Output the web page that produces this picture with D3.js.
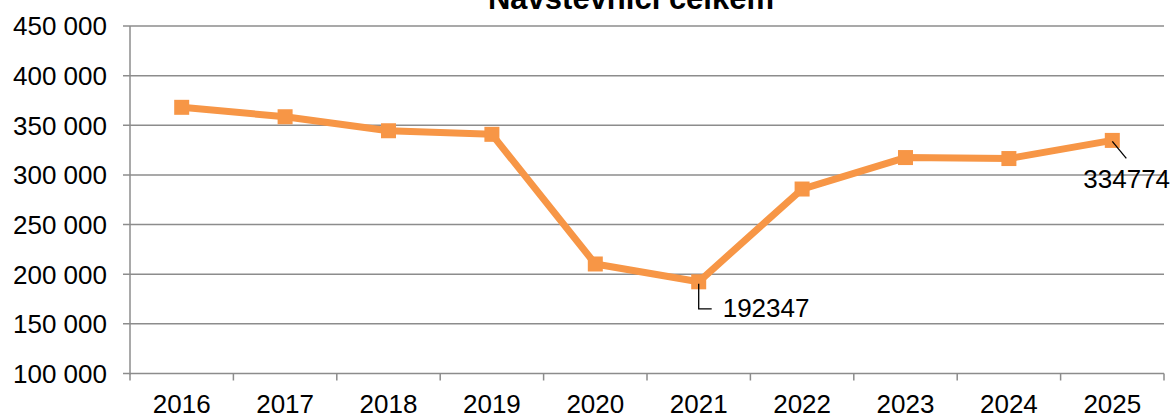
<!DOCTYPE html>
<html>
<head>
<meta charset="utf-8">
<script src="https://cdn.jsdelivr.net/npm/d3@7"></script>
<style>
  body { margin: 0; background: #fff; }
  text { font-family: "Liberation Sans", Arial, sans-serif; fill: #000; }
</style>
</head>
<body>
<div id="chart"></div>
<script>
// data
var years = ["2016", "2017", "2018", "2019", "2020", "2021", "2022", "2023", "2024", "2025"];
var visitors = [368100, 358600, 344500, 340900, 210300, 192347, 285800, 317500, 316500, 334774];
var yTicks = [100000, 150000, 200000, 250000, 300000, 350000, 400000, 450000];
var labelled = ["2021", "2025"];

var W = 1173, H = 416;
var margin = { top: 26, right: 9, bottom: 42.5, left: 130 };
var width = W - margin.left - margin.right,
    height = H - margin.top - margin.bottom;

var svg = d3.select("#chart").append("svg")
  .attr("width", W).attr("height", H);

var g = svg.append("g")
  .attr("transform", "translate(" + margin.left + "," + margin.top + ")");

var x = d3.scaleBand().domain(years).range([0, width]);
var y = d3.scaleLinear().domain([100000, 450000]).range([height, 0]);

var fmt = function(v) { return d3.format(",")(v).replace(/,/g, " "); };

// gridlines + y labels
g.selectAll(".grid").data(yTicks).enter().append("line")
  .attr("x1", -7).attr("x2", width)
  .attr("y1", function(d) { return y(d); })
  .attr("y2", function(d) { return y(d); })
  .attr("stroke", "#8c8c8c").attr("stroke-width", 1.5);

g.selectAll(".ylab").data(yTicks).enter().append("text")
  .attr("x", -23).attr("y", function(d) { return y(d); })
  .attr("dy", "0.36em").attr("text-anchor", "end")
  .style("font-size", "26px")
  .text(fmt);

// y axis line
g.append("line").attr("x1", 0).attr("x2", 0).attr("y1", 0).attr("y2", height + 1)
  .attr("stroke", "#8c8c8c").attr("stroke-width", 1.5);

// x ticks at category boundaries
var bounds = years.map(function(d) { return x(d); }).concat([width]);
g.selectAll(".xtick").data(bounds).enter().append("line")
  .attr("x1", function(d) { return d; }).attr("x2", function(d) { return d; })
  .attr("y1", height).attr("y2", height + 7)
  .attr("stroke", "#8c8c8c").attr("stroke-width", 1.5);

g.selectAll(".xlab").data(years).enter().append("text")
  .attr("x", function(d) { return x(d) + x.bandwidth() / 2; })
  .attr("y", height + 39.5)
  .attr("text-anchor", "middle")
  .style("font-size", "26px")
  .text(function(d) { return d; });

// line
var pts = years.map(function(d, i) { return { year: d, v: visitors[i] }; });
var line = d3.line()
  .x(function(d) { return x(d.year) + x.bandwidth() / 2; })
  .y(function(d) { return y(d.v); });

g.append("path").datum(pts).attr("d", line)
  .attr("fill", "none").attr("stroke", "#f79646")
  .attr("stroke-width", 7).attr("stroke-linejoin", "round");

g.selectAll(".mk").data(pts).enter().append("rect")
  .attr("x", function(d) { return x(d.year) + x.bandwidth() / 2 - 7.5; })
  .attr("y", function(d) { return y(d.v) - 7.5; })
  .attr("width", 15).attr("height", 15)
  .attr("fill", "#f79646");

// data labels with leader lines
pts.filter(function(d) { return labelled.indexOf(d.year) >= 0; }).forEach(function(d) {
  var cx = x(d.year) + x.bandwidth() / 2, cy = y(d.v);
  if (d.year === "2021") {
    g.append("path")
      .attr("d", "M" + cx + "," + (cy + 2) + "V" + (cy + 27) + "H" + (cx + 13))
      .attr("fill", "none").attr("stroke", "#000").attr("stroke-width", 1.3);
    g.append("text").attr("x", cx + 24).attr("y", cy + 26).attr("dy", "0.36em")
      .style("font-size", "26px").text(d.v);
  } else {
    g.append("path")
      .attr("d", "M" + cx + "," + (cy + 1) + "L" + (cx + 14) + "," + (cy + 18))
      .attr("fill", "none").attr("stroke", "#000").attr("stroke-width", 1.3);
    g.append("text").attr("x", cx - 29).attr("y", cy + 38).attr("dy", "0.36em")
      .style("font-size", "26px").text(d.v);
  }
});

// title (partially clipped at the top, as in the original)
svg.append("text")
  .attr("x", 631).attr("y", 8.5)
  .attr("text-anchor", "middle")
  .style("font-size", "31px").style("font-weight", "bold")
  .text("Návštěvníci celkem");
</script>
</body>
</html>
